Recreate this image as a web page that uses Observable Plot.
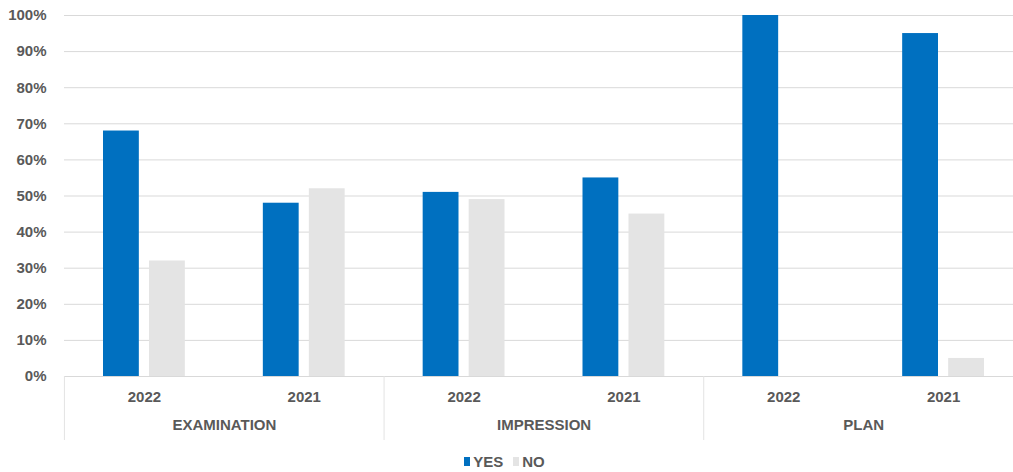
<!DOCTYPE html>
<html>
<head>
<meta charset="utf-8">
<script src="https://cdn.jsdelivr.net/npm/d3@7"></script>
<script src="https://cdn.jsdelivr.net/npm/@observablehq/plot@0.6"></script>
<style>
  body { margin: 0; background: #fff; font-family: "Liberation Sans", Arial, sans-serif; }
  #chart svg text { font-weight: bold; }
  .legend { display: flex; justify-content: center; align-items: center; height: 26px; margin-left: -4px;
            font: bold 15px "Liberation Sans", Arial, sans-serif; color: #595959; }
  .legend .item { display: flex; align-items: center; margin: 0 5px; }
  .legend .sw { width: 6px; height: 9px; margin-right: 3px; }
</style>
</head>
<body>
<div id="chart"></div>
<script>
const categories = ["EXAMINATION", "IMPRESSION", "PLAN"];
const years = ["2022", "2021"];
const seriesNames = ["YES", "NO"];
const seriesColors = ["#0070C0", "#E4E4E4"];
const yesValues = [68, 48, 51, 55, 100, 95];
const noValues = [32, 52, 49, 45, 0, 5];
const yTicks = [0, 10, 20, 30, 40, 50, 60, 70, 80, 90, 100];

const rows = yesValues.map((v, i) => ({
  category: categories[Math.floor(i / 2)],
  year: years[i % 2],
  key: categories[Math.floor(i / 2)] + "|" + years[i % 2],
  yes: v,
  no: noValues[i]
}));
const catRows = categories.map(c => ({category: c, key: c + "|" + years[0]}));

const chart = Plot.plot({
  width: 1013,
  height: 448,
  marginLeft: 64,
  marginRight: -10,
  marginTop: 15,
  marginBottom: 72,
  style: {fontFamily: "'Liberation Sans', Arial, sans-serif", fontSize: "15px", color: "#595959", background: "#fff"},
  x: {type: "band", domain: rows.map(d => d.key), padding: 0, round: false, axis: null, label: null},
  y: {domain: [0, 100], axis: null, label: null},
  marks: [
    Plot.gridY(yTicks.filter(t => t > 0), {stroke: "#d9d9d9", strokeOpacity: 1}),
    Plot.ruleY([0], {stroke: "#d9d9d9", strokeWidth: 1}),
    Plot.ruleX(catRows, {x: "key", dx: -80, stroke: "#e3e3e3", insetTop: 361, insetBottom: -64}),
    Plot.barY(rows, {x: "key", y: "yes", fill: seriesColors[0], insetLeft: 62, insetRight: 62, dx: -23}),
    Plot.barY(rows, {x: "key", y: "no", fill: seriesColors[1], insetLeft: 62, insetRight: 62, dx: 23}),
    Plot.axisY({ticks: yTicks, tickFormat: d => d + "%", tickSize: 0, tickPadding: 18, fontSize: 15, fill: "#595959", label: null}),
    Plot.axisX({tickFormat: k => k.split("|")[1], tickSize: 0, tickPadding: 15, fontSize: 15, fill: "#595959", label: null}),
    Plot.text(catRows, {x: "key", text: "category", frameAnchor: "bottom", dx: 80, dy: 53, fontSize: 15, fill: "#595959"})
  ]
});
document.getElementById("chart").appendChild(chart);

const legend = document.createElement("div");
legend.className = "legend";
seriesNames.forEach((s, i) => {
  const item = document.createElement("div");
  item.className = "item";
  item.innerHTML = `<span class="sw" style="background:${seriesColors[i]}"></span><span>${s}</span>`;
  legend.appendChild(item);
});
document.body.appendChild(legend);
</script>
</body>
</html>
